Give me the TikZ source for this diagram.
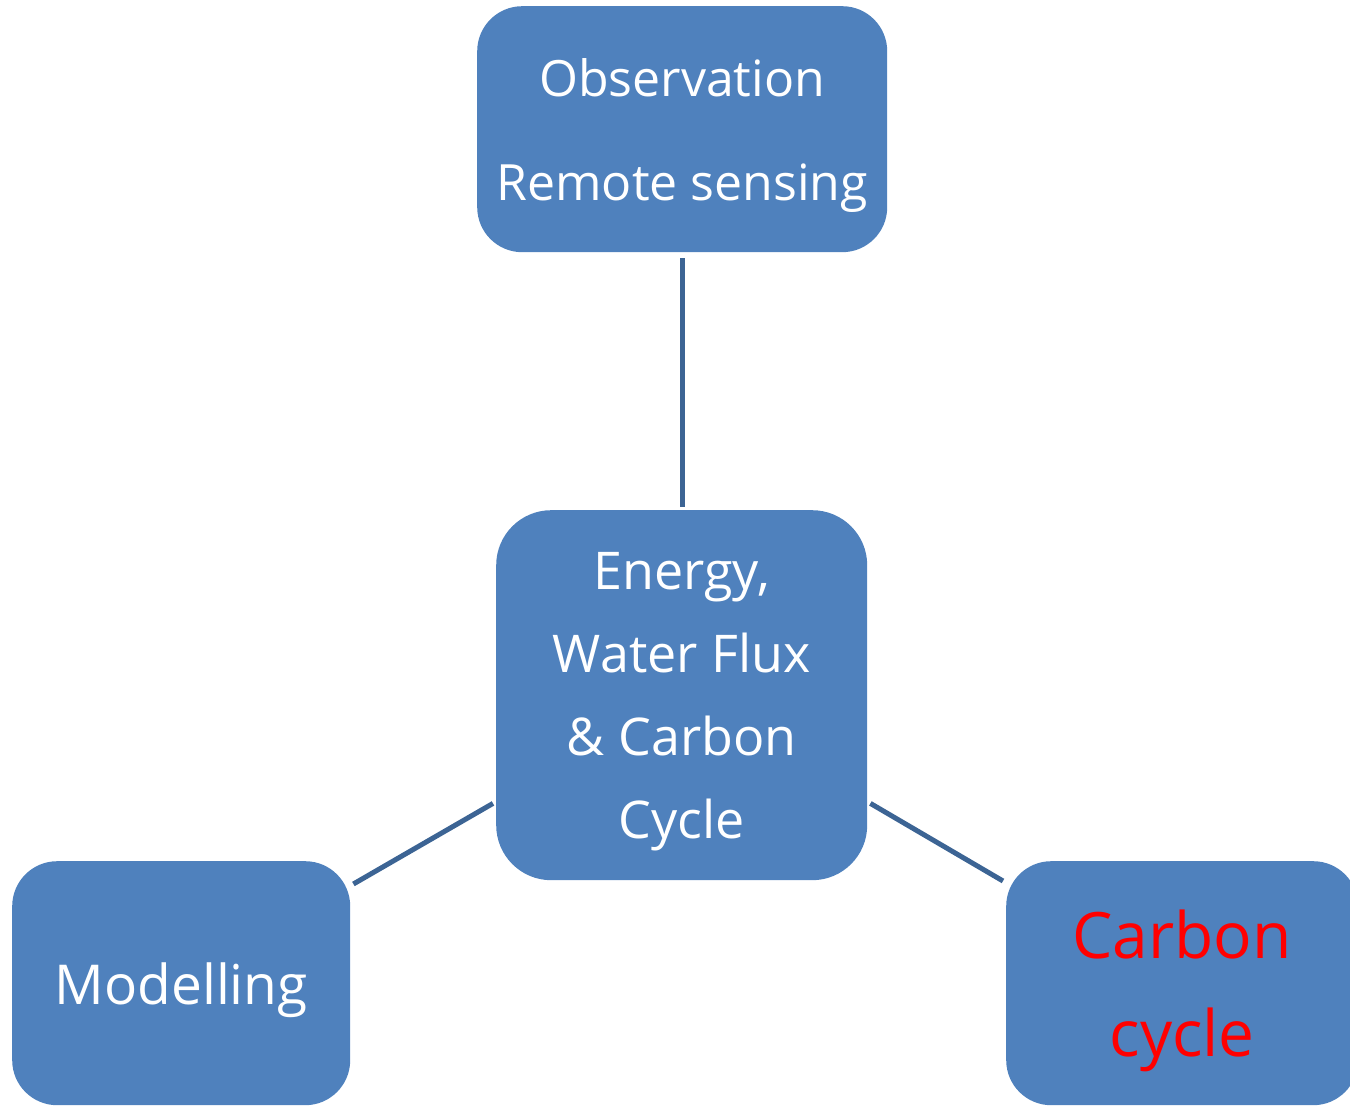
\documentclass[tikz,border=0pt]{standalone}
\usepackage{fontspec}
\setmainfont{Open Sans}
\usetikzlibrary{calc}
\definecolor{boxfill}{HTML}{4F81BD}
\definecolor{linkcol}{HTML}{3C6494}
\definecolor{redtext}{HTML}{FF0000}
\begin{document}
\begin{tikzpicture}[x=1pt,y=-1pt,
  box/.style={fill=boxfill,draw=none,inner sep=0pt,anchor=north west},
  txt/.style={text=white,align=center,inner sep=0pt},
  link/.style={draw=linkcol,line width=5pt}]
\path[use as bounding box,clip] (0,0) rectangle (1350,1107);
\node[box,rounded corners=45pt,minimum width=410pt,minimum height=246pt] (obs) at (477,6) {};
\node[txt,font=\fontsize{50}{104}\selectfont] (obst) at ($(obs.center)+(0,6)$) {Observation\\Remote sensing};
\node[box,rounded corners=55pt,minimum width=371pt,minimum height=370pt] (ctr) at (496,510) {};
\node[txt,font=\fontsize{52}{83}\selectfont] (ctrt) at ($(ctr.center)+(0,6)$) {Energy,\\Water Flux\\\& Carbon\\Cycle};
\node[box,rounded corners=45pt,minimum width=338pt,minimum height=244pt] (mod) at (12,861) {};
\node[txt,font=\fontsize{55}{66}\selectfont] (modt) at ($(mod.center)+(0,7)$) {Modelling};
\node[box,rounded corners=45pt,minimum width=352pt,minimum height=244pt] (carb) at (1006,861) {};
\node[txt,text=redtext,font=\fontsize{64}{98}\selectfont] (carbt) at ($(carb.center)+(0,8)$) {Carbon\\cycle};
\coordinate (o1) at ($(obs.south)+(0,6)$);
\coordinate (o2) at ($(ctr.north -| obs.south)+(0,-3)$);
\coordinate (c1) at ($(ctr.south west)+(-3,-77)$);
\coordinate (m1) at ($(mod.north east)+(3,23)$);
\coordinate (c2) at ($(ctr.south east)+(3,-77)$);
\coordinate (k1) at ($(carb.north west)+(-3,20)$);
\draw[link] (o1) -- (o2);
\draw[link] (c1) -- (m1);
\draw[link] (c2) -- (k1);
\end{tikzpicture}
\end{document}
